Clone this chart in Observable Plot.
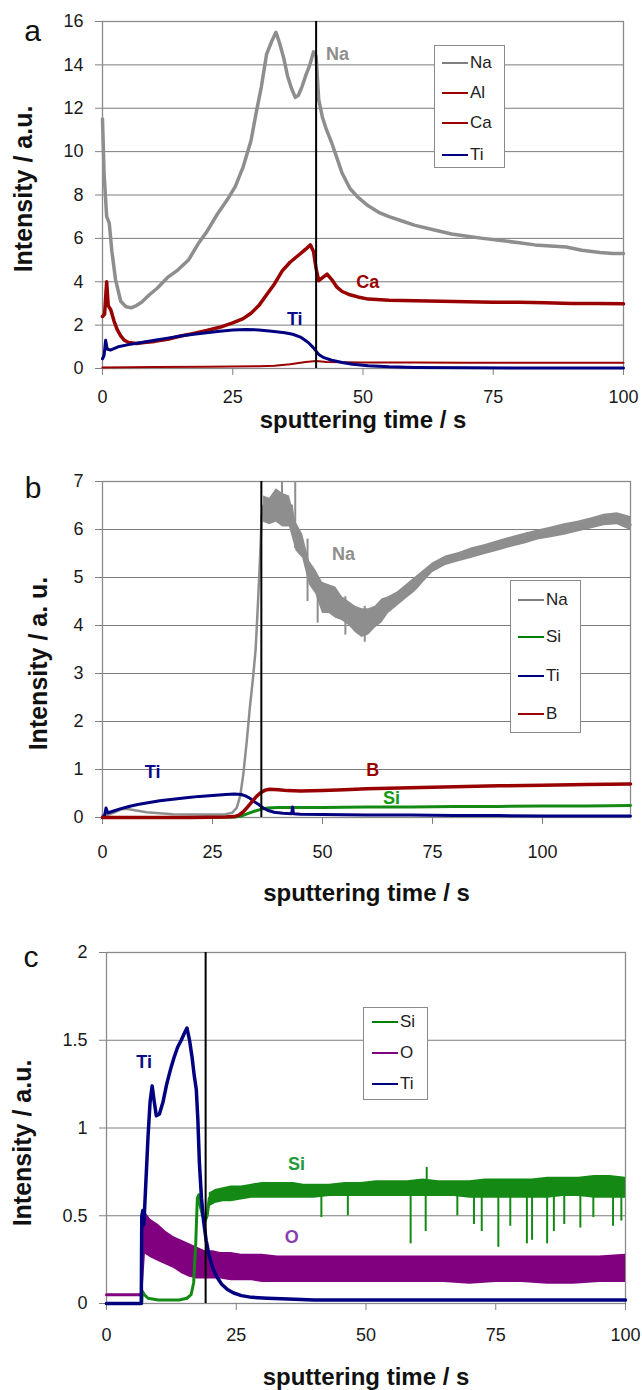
<!DOCTYPE html>
<html><head><meta charset="utf-8">
<script src="https://cdn.jsdelivr.net/npm/d3@7"></script>
<script src="https://cdn.jsdelivr.net/npm/@observablehq/plot@0.6"></script>
<style>
html,body{margin:0;padding:0;background:#fff;}
#page{position:relative;width:642px;height:1390px;overflow:hidden;font-family:'Liberation Sans',Arial,Helvetica,sans-serif;}
.panel{position:absolute;left:0;}
.legend{position:absolute;border:1px solid #8a8a8a;background:#fff;box-sizing:border-box;}
.legend .row{position:absolute;height:20px;display:flex;align-items:center;white-space:nowrap;}
.legend .sw{display:inline-block;width:26px;height:2px;margin-right:2px;}
.legend .lb{font-size:17px;color:#222;line-height:20px;}
</style>
</head><body><div id="page"></div>
<script>
// ---------------- Panel a data ----------------
const aTicksX = [0, 25, 50, 75, 100];
const aTicksY = [0, 2, 4, 6, 8, 10, 12, 14, 16];
const aBoundary = 41;
const aNaT = [0,0.3,0.8,1.3,1.8,2.5,3.5,4.5,5.5,6.5,7.5,9,10.5,12.5,14.5,16.5,18.5,20,22,24,25.5,27,28.5,29.5,30.5,31.5,32.5,33.3,34,34.8,35.5,36.3,37,37.6,38.3,39,39.8,40.5,41,41.5,42.2,43,44,45,46,47.5,49,51,53,55,57.5,60,63.5,67,70,73,76.5,80,83,86,89,92,95.5,98,100];
const aNaV = [11.5,9.0,7.0,6.7,5.4,4.1,3.1,2.85,2.8,2.9,3.05,3.4,3.7,4.2,4.55,5.0,5.8,6.3,7.1,7.8,8.4,9.3,10.5,11.8,13.0,14.5,15.1,15.5,15.0,14.3,13.5,12.9,12.5,12.6,13.0,13.5,14.0,14.6,14.4,12.4,11.6,11.0,10.4,9.7,9.0,8.3,7.9,7.5,7.2,7.0,6.8,6.6,6.4,6.2,6.1,6.0,5.9,5.8,5.7,5.65,5.6,5.45,5.35,5.3,5.3];
const aCaT = [0,0.4,0.8,1.1,1.6,2.2,2.8,3.5,4.2,5,6.5,8,10,12.5,15,17.5,20,22.5,25,27,28.5,30,31.5,33,34.5,36,37.5,39,39.9,40.5,41,41.5,42.3,43.1,44,45,46,47.5,49,51,55,60,65,70,75,80,85,90,95,100];
const aCaV = [2.4,2.5,4.0,2.9,2.7,2.2,1.8,1.5,1.3,1.2,1.15,1.2,1.25,1.35,1.5,1.62,1.75,1.9,2.1,2.3,2.55,2.9,3.4,3.9,4.5,4.9,5.2,5.5,5.7,5.4,4.6,4.05,4.2,4.35,4.1,3.75,3.55,3.4,3.3,3.2,3.15,3.12,3.1,3.08,3.05,3.05,3.03,3.0,3.0,2.98];
const aAlT = [0,10,20,30,33,36,39,41,43,50,60,70,80,90,100];
const aAlV = [0.05,0.07,0.08,0.1,0.13,0.2,0.3,0.35,0.3,0.28,0.28,0.27,0.27,0.26,0.26];
const aTiT = [0,0.3,0.6,0.9,1.5,3,5,7.5,10,12.5,15,17.5,20,22.5,25,27.5,30,32.5,35,36.5,38,39.5,40.5,41.5,42.5,44,46,48,51,55,60,70,80,90,100];
const aTiV = [0.45,0.6,1.3,0.9,0.85,1.0,1.1,1.2,1.3,1.4,1.5,1.58,1.65,1.72,1.78,1.8,1.78,1.72,1.65,1.58,1.45,1.2,0.95,0.65,0.5,0.38,0.28,0.2,0.13,0.08,0.05,0.03,0.02,0.02,0.02];
const aLabels = [{t:45.1, v:14.47, s:"Na"}, {t:50.9, v:4.0, s:"Ca"}, {t:36.9, v:2.25, s:"Ti"}];
const aLegend = ["Na", "Al", "Ca", "Ti"];

// ---------------- Panel b data ----------------
const bTicksX = [0, 25, 50, 75, 100];
const bTicksY = [0, 1, 2, 3, 4, 5, 6, 7];
const bBoundary = 36.1;
const bNaT = [0,1,2,3,4,5,6,8,10,13,16,20,24,28,29.5,30.5,31.3,32,32.8,33.5,34.2,34.8,35.3,35.8,36.2,36.6,37.5,38.5,39.5,40.3,41,42,43,43.7,44.5,45.5,46.3,47,47.8,48.6,49.5,50.5,51.5,52.5,53.5,55,56.5,58,59.5,61,62.5,64,65.5,67,68.5,70,71.5,73,74.5,76,78,80,83,86,89,92,95,98,101,104,107,110,113,116,118,120];
const bNaV = [0.05,0.05,0.08,0.12,0.16,0.18,0.17,0.14,0.11,0.09,0.07,0.06,0.06,0.07,0.1,0.2,0.45,0.9,1.6,2.3,2.9,3.5,4.4,5.4,6.3,6.5,6.45,6.4,6.5,6.45,6.4,6.45,6.5,5.9,5.8,5.6,5.5,5.0,4.9,5.0,4.6,4.5,4.6,4.5,4.4,4.3,4.3,4.1,4.0,4.05,4.2,4.3,4.4,4.5,4.6,4.7,4.8,5.0,5.15,5.25,5.35,5.42,5.5,5.55,5.62,5.7,5.78,5.85,5.92,5.97,6.02,6.08,6.13,6.2,6.22,6.1];
const bNaBandT = [36.6,38,39.5,41,42.5,44,45.5,47,48.5,50,51.5,53,54.5,56,57.5,59,60.5,62,63.5,65,67,69,71,73,75,78,81,84,87,90,93,96,99,102,105,108,111,114,117,120];
const bNaLo = [6.15,6.1,6.15,6.05,6.05,5.55,5.4,4.85,4.65,4.25,4.25,4.15,4.1,4.0,3.85,3.75,3.8,3.95,4.05,4.25,4.4,4.55,4.7,4.9,5.1,5.25,5.33,5.4,5.48,5.55,5.63,5.7,5.78,5.83,5.88,5.95,6.01,6.08,6.1,5.98];
const bNaHi = [6.7,6.65,6.85,6.75,6.7,6.15,5.9,5.35,5.15,4.9,4.85,4.8,4.6,4.5,4.4,4.35,4.35,4.4,4.55,4.6,4.7,4.85,5.0,5.15,5.3,5.45,5.52,5.62,5.69,5.77,5.85,5.92,5.99,6.05,6.12,6.17,6.24,6.32,6.35,6.27];
const bNaSpikeT = [40.8, 43.8, 46.6, 48.9, 55.2, 59.6];
const bNaSpikeLo = [6.2, 5.6, 4.5, 4.05, 3.8, 3.65];
const bNaSpikeHi = [7.0, 7.0, 5.8, 5.0, 4.6, 4.4];
const bTiT = [0,0.5,0.8,1.2,2,4,6,8,10,13,16,19,22,25,28,30,31.5,32.5,33.5,34.5,35.5,36.5,37.5,39,41,43,43.2,43.4,45,50,60,70,80,90,100,110,120];
const bTiV = [0.0,0.05,0.2,0.1,0.12,0.18,0.23,0.27,0.3,0.35,0.38,0.41,0.44,0.46,0.48,0.49,0.48,0.45,0.4,0.33,0.27,0.2,0.15,0.11,0.09,0.08,0.22,0.08,0.07,0.06,0.05,0.05,0.04,0.04,0.03,0.03,0.03];
const bBT = [0,10,20,28,30,31,32,33,34,35,36,37,38,40,42,45,50,55,60,70,80,90,100,110,120];
const bBV = [0,0,0,0.01,0.02,0.05,0.12,0.22,0.33,0.44,0.52,0.57,0.59,0.58,0.56,0.55,0.56,0.58,0.6,0.62,0.64,0.66,0.67,0.69,0.7];
const bSiT = [0,10,20,30,31.5,33,34.5,36,37.5,40,45,50,60,70,80,90,100,110,120];
const bSiV = [0,0,0,0.01,0.03,0.08,0.13,0.17,0.2,0.21,0.21,0.21,0.22,0.22,0.23,0.23,0.24,0.24,0.25];
const bLabels = [{t:54.8, v:5.475, s:"Na"}, {t:11.4, v:0.933, s:"Ti"}, {t:61.4, v:0.975, s:"B"}, {t:65.7, v:0.41, s:"Si"}];
const bLegend = ["Na", "Si", "Ti", "B"];

// ---------------- Panel c data ----------------
const cTicksX = [0, 25, 50, 75, 100];
const cTicksY = [0, 0.5, 1, 1.5, 2];
const cBoundary = 19.1;
const cTiT = [0,6.7,6.8,7.0,7.2,7.6,8.0,8.4,8.8,9.2,9.6,10.2,10.9,11.6,12.3,13.0,13.7,14.4,15.0,15.5,16.0,16.5,16.9,17.3,17.6,17.9,18.3,18.7,19.2,19.8,20.5,21.3,22.2,23.3,24.5,26,28,31,35,40,50,60,70,80,90,100];
const cTiV = [0,0,0.5,0.53,0.45,0.7,0.95,1.15,1.24,1.15,1.07,1.08,1.15,1.25,1.33,1.4,1.46,1.5,1.54,1.57,1.5,1.4,1.3,1.22,1.05,0.8,0.6,0.47,0.36,0.27,0.2,0.15,0.11,0.08,0.06,0.045,0.035,0.03,0.025,0.02,0.02,0.02,0.02,0.02,0.02,0.02];
const cSiT = [0,6.8,6.9,7.3,8,10,12,14,15.5,16.3,16.8,17.2,17.5,17.8,18.1,18.5,19.0,19.4,19.8];
const cSiV = [0,0,0.07,0.05,0.03,0.02,0.02,0.02,0.03,0.05,0.12,0.35,0.6,0.62,0.55,0.5,0.47,0.5,0.6];
const cSiBandT = [19.8,21,22.5,24,26,28,30,32,34,36,38,40,43,46,49,52,55,58,61,64,67,70,73,76,79,82,85,88,91,94,97,100];
const cSiLo = [0.55,0.57,0.58,0.58,0.59,0.6,0.6,0.6,0.6,0.6,0.6,0.6,0.61,0.61,0.61,0.61,0.61,0.61,0.61,0.61,0.61,0.6,0.6,0.6,0.6,0.6,0.6,0.61,0.61,0.6,0.6,0.6];
const cSiHi = [0.63,0.65,0.66,0.67,0.67,0.68,0.69,0.69,0.69,0.69,0.68,0.68,0.68,0.69,0.69,0.7,0.7,0.7,0.71,0.7,0.7,0.7,0.71,0.71,0.71,0.71,0.72,0.72,0.72,0.73,0.73,0.72];
const cSiSpikeT = [41.4,46.5,58.6,61.5,61.7,67.6,70.8,72.3,75.5,77.8,81.0,82.0,84.9,86.2,88.2,91.3,93.8,97.6,99.2];
const cSiSpikeLo = [0.49,0.5,0.34,0.41,0.64,0.5,0.45,0.41,0.32,0.44,0.34,0.36,0.34,0.41,0.45,0.43,0.49,0.44,0.47];
const cSiSpikeHi = [0.62,0.62,0.63,0.63,0.775,0.63,0.63,0.63,0.63,0.64,0.64,0.64,0.64,0.64,0.64,0.65,0.65,0.65,0.65];
const cOT = [0, 6.8, 7.0];
const cOV = [0.05, 0.05, 0.05];
const cOBandT = [7.0,7.5,8.5,10,11.5,13,14.5,16,17.5,19,20.5,22,24,26,28,30,33,36,40,45,50,55,60,65,70,75,80,85,90,95,100];
const cOLo = [0.05,0.28,0.26,0.24,0.22,0.2,0.17,0.15,0.14,0.14,0.14,0.14,0.13,0.13,0.13,0.12,0.12,0.12,0.12,0.12,0.12,0.12,0.12,0.12,0.11,0.12,0.12,0.11,0.11,0.12,0.12];
const cOHi = [0.5,0.52,0.48,0.45,0.41,0.38,0.36,0.34,0.32,0.3,0.3,0.29,0.29,0.28,0.28,0.28,0.27,0.27,0.27,0.27,0.27,0.27,0.27,0.27,0.27,0.27,0.27,0.27,0.27,0.27,0.28];
const cLabels = [{t:7.25, v:1.372, s:"Ti"}, {t:36.6, v:0.791, s:"Si"}, {t:35.7, v:0.375, s:"O"}];
const cLegend = ["Si", "O", "Ti"];

// ---------------- styling ----------------
const FONT = "'Liberation Sans', Arial, Helvetica, sans-serif";
const colors = {Na:"#8e8e8e", Al:"#990000", Ca:"#990000", Ti:"#000080", Si:"#148a14", O:"#800080", B:"#990000"};
const legendColors = {Na:"#7f7f7f", Al:"#990000", Ca:"#990000", Ti:"#000080", Si:"#008000", O:"#800080", B:"#990000"};
const labelColors = {Na:"#8e8e8e", Ca:"#990000", B:"#990000", Ti:"#0a0a8a", Si:"#1f9a3c", O:"#8a3fb0"};
const labelColorsB = {Si:"#139a13"};

const rows = (ts, vs) => ts.map((t, i) => ({t, v: vs[i]}));
const bands = (ts, lo, hi) => ts.map((t, i) => ({t, lo: lo[i], hi: hi[i]}));
const fmt = d => String(d);

function makePanel(c) {
  return Plot.plot({
    width: 642, height: c.height,
    marginTop: c.mt, marginBottom: c.mb, marginLeft: c.ml, marginRight: c.mr,
    style: {fontFamily: FONT, background: "white", overflow: "visible", color: "#1a1a1a"},
    x: {domain: c.xDomain},
    y: {domain: c.yDomain},
    marks: [
      Plot.gridY(c.yTicks, {stroke: "#7c7c7c", strokeOpacity: 1, strokeWidth: 1}),
      Plot.frame({stroke: "#8a8a8a", strokeWidth: 1.3}),
      Plot.axisY(c.yTicks, {tickSize: 7, tickPadding: 12, fontSize: 18, label: null, stroke: "#808080", fill: "#1a1a1a", tickFormat: fmt}),
      Plot.axisX(c.xTicks, {tickSize: 7, tickPadding: c.xPad, fontSize: 18, label: null, stroke: "#808080", fill: "#1a1a1a", tickFormat: fmt}),
      ...c.marks,
      Plot.ruleX([c.boundary], {stroke: "black", strokeWidth: 2}),
      Plot.text(c.labels, {x: "t", y: "v", text: "s", fill: d => c.labelFill(d.s), fontSize: 18, fontWeight: "bold", textAnchor: "middle", lineAnchor: "middle"}),
      Plot.text(["sputtering time / s"], {frameAnchor: "bottom", dy: c.xLabelDy, text: d => d, fontSize: 24, fontWeight: "bold", textAnchor: "middle", lineAnchor: "middle", fill: "#111"}),
      Plot.text([c.yLabel], {frameAnchor: "left", dx: c.yLabelDx, dy: c.yLabelDy, rotate: -90, text: d => d, fontSize: 25, fontWeight: "bold", textAnchor: "middle", lineAnchor: "middle", fill: "#111"}),
      Plot.text([c.letter], {frameAnchor: "top-left", dx: c.letterDx, dy: c.letterDy, text: d => d, fontSize: 30, textAnchor: "middle", lineAnchor: "middle", fill: "#111"})
    ]
  });
}

const page = document.getElementById("page");
function place(node, top) {
  const wrap = document.createElement("div");
  wrap.className = "panel";
  wrap.style.top = top + "px";
  wrap.appendChild(node);
  page.appendChild(wrap);
}
function legend(names, box, rowCenters, lineLeft) {
  const div = document.createElement("div");
  div.className = "legend";
  Object.assign(div.style, {left: box[0] + "px", top: box[1] + "px", width: box[2] + "px", height: box[3] + "px"});
  names.forEach((n, i) => {
    const r = document.createElement("div");
    r.className = "row";
    r.style.left = (lineLeft - box[0] - 1) + "px";
    r.style.top = (rowCenters[i] - box[1] - 11) + "px";
    r.innerHTML = `<span class="sw" style="background:${legendColors[n]}"></span><span class="lb">${n}</span>`;
    div.appendChild(r);
  });
  page.appendChild(div);
}

// Panel a
place(makePanel({
  height: 430, mt: 21, mb: 62, ml: 102, mr: 19, xPad: 15,
  xDomain: [0, 100], yDomain: [0, 16], xTicks: aTicksX, yTicks: aTicksY, boundary: aBoundary,
  labels: aLabels, labelFill: s => labelColors[s],
  xLabelDy: 52, yLabel: "Intensity / a.u.", yLabelDx: -79, yLabelDy: -6,
  letter: "a", letterDx: -70, letterDy: 10,
  marks: [
    Plot.line(rows(aNaT, aNaV), {x: "t", y: "v", stroke: colors.Na, strokeWidth: 3.5}),
    Plot.line(rows(aAlT, aAlV), {x: "t", y: "v", stroke: colors.Al, strokeWidth: 2}),
    Plot.line(rows(aCaT, aCaV), {x: "t", y: "v", stroke: colors.Ca, strokeWidth: 3.5}),
    Plot.line(rows(aTiT, aTiV), {x: "t", y: "v", stroke: colors.Ti, strokeWidth: 3})
  ]
}), 0);
legend(aLegend, [434, 45, 71, 123], [63, 93, 123, 155], 442);

// Panel b
place(makePanel({
  height: 470, mt: 41, mb: 93, ml: 102, mr: 12, xPad: 21,
  xDomain: [0, 120], yDomain: [0, 7], xTicks: bTicksX, yTicks: bTicksY, boundary: bBoundary,
  labels: bLabels, labelFill: s => labelColorsB[s] || labelColors[s],
  xLabelDy: 76, yLabel: "Intensity / a. u.", yLabelDx: -64, yLabelDy: 14,
  letter: "b", letterDx: -69.5, letterDy: 7,
  marks: [
    Plot.areaY(bands(bNaBandT, bNaLo, bNaHi), {x: "t", y1: "lo", y2: "hi", fill: colors.Na}),
    Plot.line(rows(bNaT, bNaV), {x: "t", y: "v", stroke: colors.Na, strokeWidth: 2.5}),
    Plot.ruleX(bands(bNaSpikeT, bNaSpikeLo, bNaSpikeHi), {x: "t", y1: "lo", y2: "hi", stroke: colors.Na, strokeWidth: 2}),
    Plot.line(rows(bSiT, bSiV), {x: "t", y: "v", stroke: colors.Si, strokeWidth: 3}),
    Plot.line(rows(bTiT, bTiV), {x: "t", y: "v", stroke: colors.Ti, strokeWidth: 3}),
    Plot.line(rows(bBT, bBV), {x: "t", y: "v", stroke: colors.B, strokeWidth: 3.5})
  ]
}), 440);
legend(bLegend, [510, 580, 71, 153], [600, 637, 676, 714], 518);

// Panel c
place(makePanel({
  height: 475, mt: 37, mb: 87, ml: 106, mr: 17, xPad: 18,
  xDomain: [0, 100], yDomain: [0, 2], xTicks: cTicksX, yTicks: cTicksY, boundary: cBoundary,
  labels: cLabels, labelFill: s => labelColors[s],
  xLabelDy: 74, yLabel: "Intensity / a.u.", yLabelDx: -84, yLabelDy: 15,
  letter: "c", letterDx: -75.5, letterDy: 5,
  marks: [
    Plot.line(rows(cOT, cOV), {x: "t", y: "v", stroke: colors.O, strokeWidth: 3}),
    Plot.areaY(bands(cOBandT, cOLo, cOHi), {x: "t", y1: "lo", y2: "hi", fill: colors.O}),
    Plot.line(rows(cSiT, cSiV), {x: "t", y: "v", stroke: colors.Si, strokeWidth: 3}),
    Plot.areaY(bands(cSiBandT, cSiLo, cSiHi), {x: "t", y1: "lo", y2: "hi", fill: colors.Si}),
    Plot.ruleX(bands(cSiSpikeT, cSiSpikeLo, cSiSpikeHi), {x: "t", y1: "lo", y2: "hi", stroke: colors.Si, strokeWidth: 2}),
    Plot.line(rows(cTiT, cTiV), {x: "t", y: "v", stroke: colors.Ti, strokeWidth: 3.5})
  ]
}), 915);
legend(cLegend, [363, 1007, 65, 93], [1022, 1053, 1084], 372);
</script>
</body></html>
